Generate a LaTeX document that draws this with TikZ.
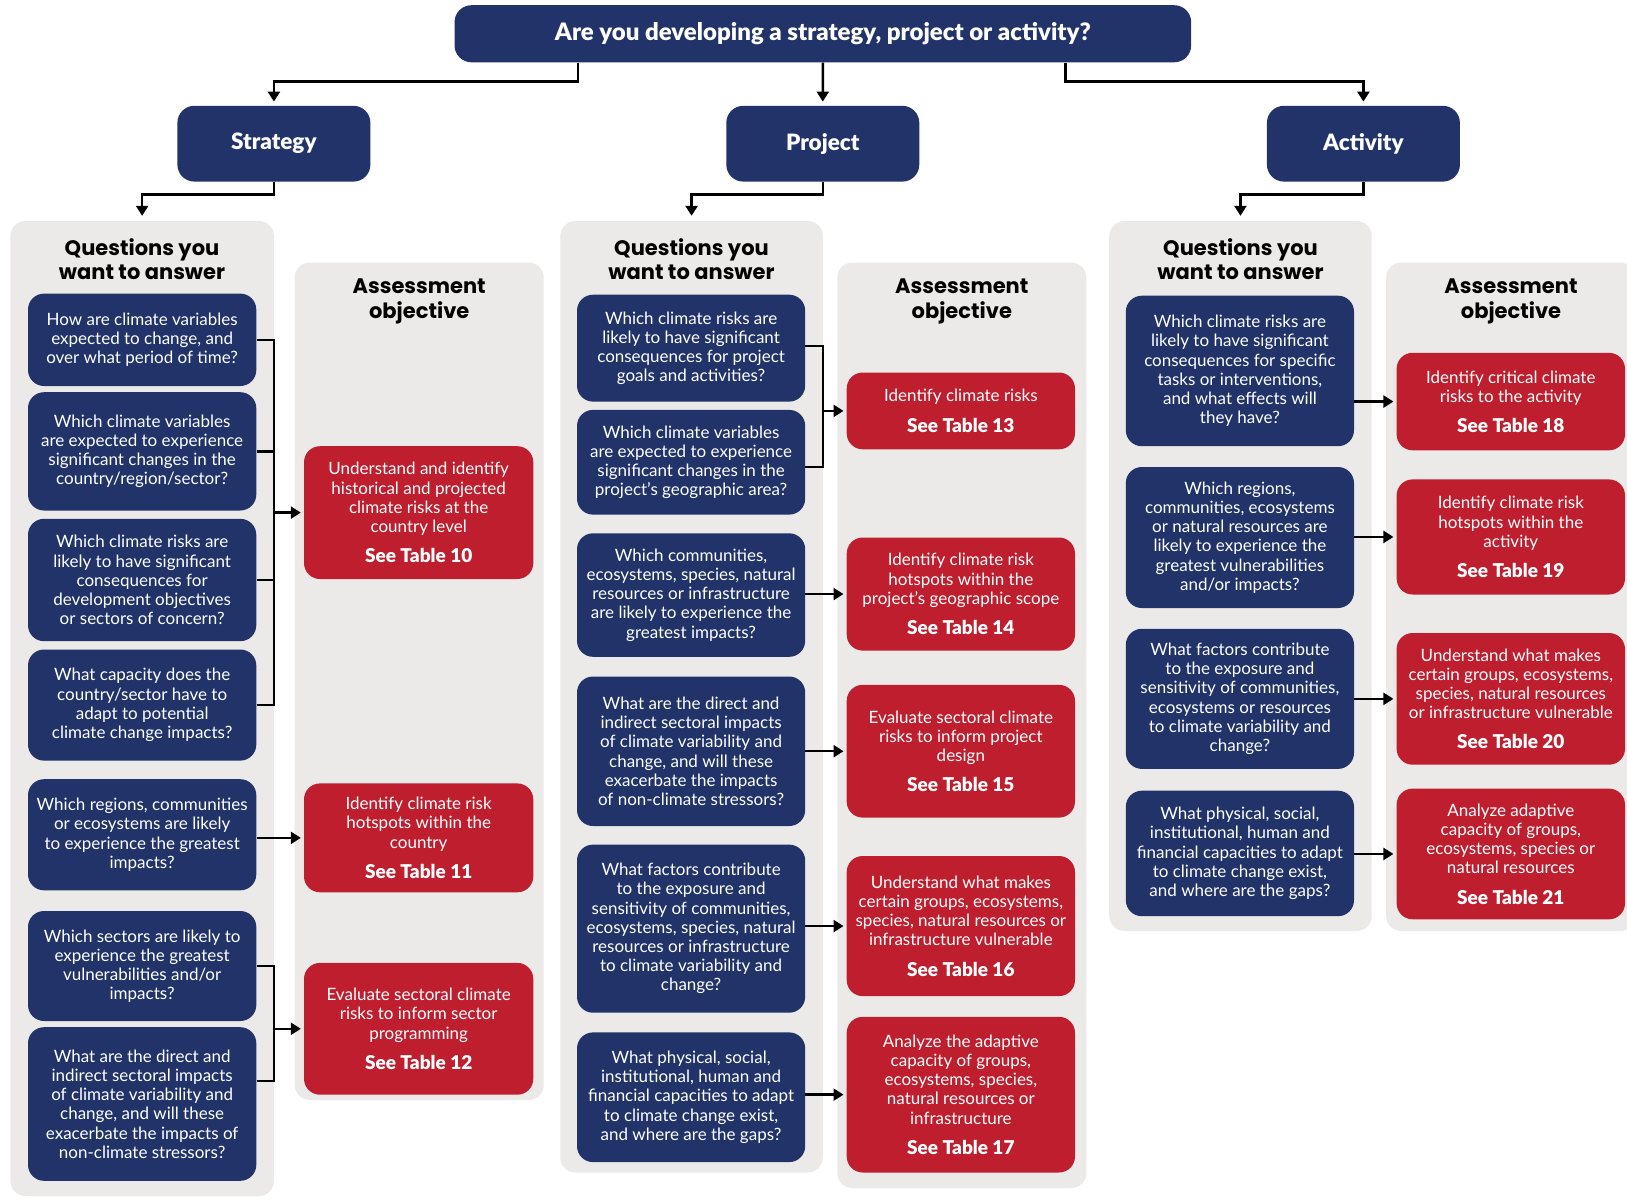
\documentclass[tikz,border=0pt]{standalone}
\usepackage{fontspec}
\setmainfont{Lato}
\newfontfamily\heavyfont{Lato Black}
\newfontfamily\headfont{Poppins}
\usetikzlibrary{arrows.meta}

\definecolor{navy}{RGB}{33,51,104}
\definecolor{crimson}{RGB}{190,30,46}
\definecolor{panelgray}{RGB}{235,234,233}

\tikzset{
  basebox/.style={align=center, inner sep=0pt, rounded corners=16pt, text=white,
    font=\fontsize{17}{19.2}\selectfont},
  qbox/.style={basebox, fill=navy},
  rbox/.style={basebox, fill=crimson},
  catbox/.style={basebox, fill=navy, rounded corners=17pt,
    font=\heavyfont\fontsize{22.5}{26}\selectfont},
  titlebox/.style={catbox, font=\heavyfont\fontsize{24}{28}\selectfont},
  panel/.style={fill=panelgray, rounded corners=15pt, inner sep=0pt},
  heading/.style={align=center, inner sep=0pt, text=black,
    font=\headfont\bfseries\fontsize{21}{24.3}\selectfont},
  conn/.style={line width=2.4pt, black},
  arr/.style={conn, -{Triangle[length=10pt,width=12pt]}},
}
% place a node by its corner coordinates: style, name, x1, y1, x2, y2, text
\newcommand\boxat[7]{%
  \node[#1, minimum width={(#5-#3)*1pt}, minimum height={(#6-#4)*1pt}]
    (#2) at ({(#3+#5)/2},{(#4+#6)/2}) {#7};}
\newcommand\tbl[1]{\\[11pt]{\heavyfont\fontsize{19}{20}\selectfont See Table #1}}

\begin{document}
\begin{tikzpicture}[x=1pt, y=-1pt]
\useasboundingbox (0,0) rectangle (1627,1200);
\clip (0,0) rectangle (1627,1200);

% ---------- top level ----------
\boxat{titlebox}{top}{454.5}{5.2}{1191.2}{62.3}{Are you developing a strategy, project or activity?}
\boxat{catbox}{strat}{177.4}{105.8}{370.4}{181.6}{Strategy}
\boxat{catbox}{proj}{726.3}{105.8}{919.3}{181.6}{Project}
\boxat{catbox}{act}{1266.9}{105.8}{1459.9}{181.6}{Activity}

\coordinate (tl) at (578,0);
\coordinate (tr) at (1065.6,0);
\draw[arr, shorten >=4pt] (top.south -| tl) -- ++(0,19) -| (strat.north);
\draw[arr, shorten >=4pt] (top.south) -- (proj.north);
\draw[arr, shorten >=4pt] (top.south -| tr) -- ++(0,19) -| (act.north);

% ---------- panels ----------
\boxat{panel}{sqp}{10.4}{221}{273.9}{1196}{}
\boxat{panel}{sap}{294.7}{262.5}{543.7}{1100}{}
\boxat{panel}{pqp}{560.3}{221}{822.8}{1172.5}{}
\boxat{panel}{pap}{837.3}{262.5}{1086.4}{1188}{}
\boxat{panel}{aqp}{1109.2}{221}{1371.7}{931}{}
\boxat{panel}{aap}{1386.2}{262.5}{1636}{931}{}

\draw[arr, shorten >=5pt] (strat.south) -- ++(0,12.5) -| (sqp.north);
\draw[arr, shorten >=5pt] (proj.south) -- ++(0,12.5) -| (pqp.north);
\draw[arr, shorten >=5pt] (act.south) -- ++(0,12.5) -| (aqp.north);

\node[heading] (sqh) at (142,259) {Questions you\\want to answer};
\node[heading] (pqh) at (691.5,259) {Questions you\\want to answer};
\node[heading] (aqh) at (1240.5,259) {Questions you\\want to answer};
\node[heading] (sah) at (419.2,301.5) {Assessment\\objective};
\node[heading] (pah) at (961.8,301.5) {Assessment\\objective};
\node[heading] (aah) at (1511,301.5) {Assessment\\objective};

% ---------- strategy ----------
\boxat{qbox}{q1}{28}{293.6}{256.3}{386}{How are climate variables\\expected to change, and\\over what period of time?}
\boxat{qbox}{q2}{28}{392.2}{256.3}{510.5}{Which climate variables\\are expected to experience\\significant changes in the\\country/region/sector?}
\boxat{qbox}{q3}{28}{518.8}{256.3}{641.2}{Which climate risks are\\likely to have significant\\consequences for\\development objectives\\or sectors of concern?}
\boxat{qbox}{q4}{28}{649.5}{256.3}{760.6}{What capacity does the\\country/sector have to\\adapt to potential\\climate change impacts?}
\boxat{qbox}{q5}{28}{779.2}{256.3}{890.3}{Which regions, communities\\or ecosystems are likely\\to experience the greatest\\impacts?}
\boxat{qbox}{q6}{28}{911}{256.3}{1021}{Which sectors are likely to\\experience the greatest\\vulnerabilities and/or\\impacts?}
\boxat{qbox}{q7}{28}{1027.2}{256.3}{1180.8}{What are the direct and\\indirect sectoral impacts\\of climate variability and\\change, and will these\\exacerbate the impacts of\\non-climate stressors?}

\boxat{rbox}{r10}{304}{446.2}{533.3}{579}{Understand and identify\\historical and projected\\climate risks at the\\country level\tbl{10}}
\boxat{rbox}{r11}{304}{783.4}{533.3}{892.3}{Identify climate risk\\hotspots within the\\country\tbl{11}}
\boxat{rbox}{r12}{304}{962.9}{533.3}{1094.7}{Evaluate sectoral climate\\risks to inform sector\\programming\tbl{12}}

\draw[conn] (q1.east) -- (q1.east -| sqp.east) -- (q4.east -| sqp.east) -- (q4.east);
\draw[conn] (q2.east) -- (q2.east -| sqp.east);
\draw[conn] (q3.east) -- (q3.east -| sqp.east);
\draw[arr, shorten >=3pt] (sqp.east |- r10.west) -- (r10.west);
\draw[arr, shorten >=3pt] (q5.east |- r11.west) -- (r11.west);
\draw[conn] (q6.east) -- (q6.east -| sqp.east) -- ([yshift=23pt]q7.east -| sqp.east) -- ([yshift=23pt]q7.east);
\draw[arr, shorten >=3pt] (sqp.east |- r12.west) -- (r12.west);

% ---------- project ----------
\boxat{qbox}{p1}{577}{294.7}{805.2}{401.6}{Which climate risks are\\likely to have significant\\consequences for project\\goals and activities?}
\boxat{qbox}{p2}{577}{409.9}{805.2}{514.6}{Which climate variables\\are expected to experience\\significant changes in the\\project’s geographic area?}
\boxat{qbox}{p3}{577}{533.3}{805.2}{656.8}{Which communities,\\ecosystems, species, natural\\resources or infrastructure\\are likely to experience the\\greatest impacts?}
\boxat{qbox}{p4}{577}{676.5}{805.2}{826}{What are the direct and\\indirect sectoral impacts\\of climate variability and\\change, and will these\\exacerbate the impacts\\of non-climate stressors?}
\boxat{qbox}{p5}{577}{844.6}{805.2}{1012.7}{What factors contribute\\to the exposure and\\sensitivity of communities,\\ecosystems, species, natural\\resources or infrastructure\\to climate variability and\\change?}
\boxat{qbox}{p6}{577}{1032.4}{805.2}{1162.1}{What physical, social,\\institutional, human and\\financial capacities to adapt\\to climate change exist,\\and where are the gaps?}

\boxat{rbox}{r13}{846.7}{372.5}{1075}{449.3}{Identify climate risks\tbl{13}}
\boxat{rbox}{r14}{846.7}{537.5}{1075}{650.6}{Identify climate risk\\hotspots within the\\project’s geographic scope\tbl{14}}
\boxat{rbox}{r15}{846.7}{684.8}{1075}{817.6}{Evaluate sectoral climate\\risks to inform project\\design\tbl{15}}
\boxat{rbox}{r16}{846.7}{856}{1075}{996.1}{Understand what makes\\certain groups, ecosystems,\\species, natural resources or\\infrastructure vulnerable\tbl{16}}
\boxat{rbox}{r17}{846.7}{1016.8}{1075}{1172.5}{Analyze the adaptive\\capacity of groups,\\ecosystems, species,\\natural resources or\\infrastructure\tbl{17}}

\draw[conn] ([yshift=2pt]p1.east) -- ([yshift=2pt]p1.east -| pqp.east) -- ([yshift=-5pt]p2.east -| pqp.east) -- ([yshift=-5pt]p2.east);
\draw[arr, shorten >=3pt] (pqp.east |- r13.west) -- (r13.west);
\draw[arr, shorten >=3pt] (p3.east |- r14.west) -- (r14.west);
\draw[arr, shorten >=3pt] (p4.east |- r15.west) -- (r15.west);
\draw[arr, shorten >=3pt] (p5.east |- r16.west) -- (r16.west);
\draw[arr, shorten >=3pt] (p6.east |- r17.west) -- (r17.west);

% ---------- activity ----------
\boxat{qbox}{a1}{1125.8}{295.7}{1354}{446.2}{Which climate risks are\\likely to have significant\\consequences for specific\\tasks or interventions,\\and what effects will\\they have?}
\boxat{qbox}{a2}{1125.8}{467}{1354}{608}{Which regions,\\communities, ecosystems\\or natural resources are\\likely to experience the\\greatest vulnerabilities\\and/or impacts?}
\boxat{qbox}{a3}{1125.8}{628.8}{1354}{768.9}{What factors contribute\\to the exposure and\\sensitivity of communities,\\ecosystems or resources\\to climate variability and\\change?}
\boxat{qbox}{a4}{1125.8}{790.7}{1354}{916.2}{What physical, social,\\institutional, human and\\financial capacities to adapt\\to climate change exist,\\and where are the gaps?}

\boxat{rbox}{r18}{1396.6}{352.8}{1625}{450.3}{Identify critical climate\\risks to the activity\tbl{18}}
\boxat{rbox}{r19}{1396.6}{479.4}{1625}{594.5}{Identify climate risk\\hotspots within the\\activity\tbl{19}}
\boxat{rbox}{r20}{1396.6}{633}{1625}{764.7}{Understand what makes\\certain groups, ecosystems,\\species, natural resources\\or infrastructure vulnerable\tbl{20}}
\boxat{rbox}{r21}{1396.6}{788.6}{1625}{919.3}{Analyze adaptive\\capacity of groups,\\ecosystems, species or\\natural resources\tbl{21}}

\draw[arr, shorten >=3pt] (a1.east |- r18.west) -- (r18.west);
\draw[arr, shorten >=3pt] (a2.east |- r19.west) -- (r19.west);
\draw[arr, shorten >=3pt] (a3.east |- r20.west) -- (r20.west);
\draw[arr, shorten >=3pt] (a4.east |- r21.west) -- (r21.west);
\end{tikzpicture}
\end{document}
